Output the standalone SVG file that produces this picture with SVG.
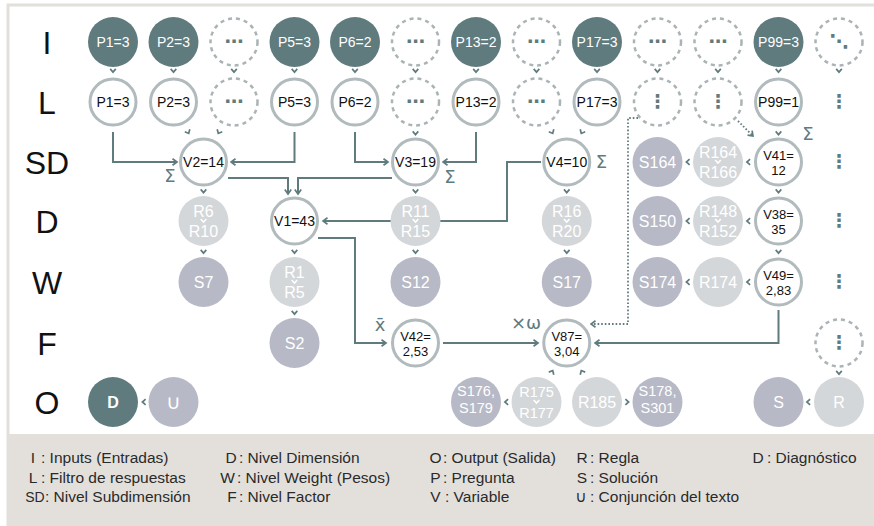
<svg xmlns="http://www.w3.org/2000/svg" xmlns:xlink="http://www.w3.org/1999/xlink" width="874" height="526" viewBox="0 0 874 526">
<style>
.dk{fill:#5f7b7e}
.ring{fill:#fff;stroke:#b1babc;stroke-width:3}
.dash{fill:#fff;stroke:#aab3b5;stroke-width:2.5;stroke-dasharray:4 4}
.rule{fill:#d4d7d9}
.sol{fill:#b7b9c6}
.t{font-family:"Liberation Sans",Arial,sans-serif;font-size:14px;text-anchor:middle;fill:#111}
.t2{font-family:"Liberation Sans",Arial,sans-serif;font-size:13px;text-anchor:middle;fill:#111}
.tw{font-family:"Liberation Sans",Arial,sans-serif;font-size:14px;text-anchor:middle;fill:#fff}
.tb{font-family:"Liberation Sans",Arial,sans-serif;font-size:16px;text-anchor:middle;fill:#fff}
.ts{font-family:"Liberation Sans",Arial,sans-serif;font-size:14.5px;text-anchor:middle;fill:#fff}
.dots{font-family:"DejaVu Sans",sans-serif;font-size:19px;font-weight:bold;text-anchor:middle;fill:#5f7b7e}
.row{font-family:"Liberation Sans",Arial,sans-serif;font-size:32px;text-anchor:middle;fill:#111}
.sym{font-family:"DejaVu Sans",sans-serif;font-size:18px;text-anchor:middle;fill:#5f7b7e}
.lg{font-family:"Liberation Sans",Arial,sans-serif;font-size:15.5px;fill:#2a2a2a}
.lgk{font-family:"Liberation Sans","DejaVu Sans",Arial,sans-serif;font-size:15.5px;fill:#2a2a2a;text-anchor:middle}
.con{fill:none;stroke:#5f7b7e;stroke-width:2}
.dot{fill:none;stroke:#5f7b7e;stroke-width:1.8;stroke-dasharray:1.6 2}
.cv{fill:none;stroke:#5f7b7e;stroke-width:1.7}
.cvw{fill:none;stroke:#fff;stroke-width:1.5}
</style>
<defs>
<marker id="ah" viewBox="0 0 7 8" refX="5.5" refY="4" markerWidth="7" markerHeight="8" orient="auto" markerUnits="userSpaceOnUse">
<path d="M1,0.8 L5.5,4 L1,7.2" fill="none" stroke="#5f7b7e" stroke-width="1.7"/>
</marker>
<path id="cv" d="M-2.8,-1.6 L0,1.6 L2.8,-1.6"/>
</defs>

<rect x="8" y="5" width="880" height="530" fill="#fff" stroke="#e3e0dc" stroke-width="3"/>
<rect x="7" y="434" width="880" height="95" fill="#e3e0dc"/>

<g id="row-labels">
<text class="row" x="47" y="54">I</text>
<text class="row" x="47" y="114">L</text>
<text class="row" x="47" y="174">SD</text>
<text class="row" x="47" y="233">D</text>
<text class="row" x="47" y="294">W</text>
<text class="row" x="47" y="355">F</text>
<text class="row" x="47" y="414">O</text>
</g>

<g id="connectors">
<path class="con" d="M113,132 V162 H177" marker-end="url(#ah)"/>
<path class="con" d="M294.5,132 V162 H231" marker-end="url(#ah)"/>
<path class="con" d="M355,132 V162 H388" marker-end="url(#ah)"/>
<path class="con" d="M476,132 V162 H443" marker-end="url(#ah)"/>
<path class="con" d="M228,178 H288 V194" marker-end="url(#ah)"/>
<path class="con" d="M392,178 H298 V194" marker-end="url(#ah)"/>
<path class="con" d="M541,162 H507 V221 H323" marker-end="url(#ah)"/>
<path class="con" d="M318,238 H355 V343 H386" marker-end="url(#ah)"/>
<path class="con" d="M443,343 H538" marker-end="url(#ah)"/>
<path class="con" d="M778.5,310 V343 H595" marker-end="url(#ah)"/>
<path class="dot" d="M638,118 H628 V324 H591" marker-end="url(#ah)"/>
<path class="dot" d="M738,121 L753,136" marker-end="url(#ah)"/>
<g class="cv">
<use xlink:href="#cv" x="113" y="70.5"/>
<use xlink:href="#cv" x="173.5" y="70.5"/>
<use xlink:href="#cv" x="234" y="70.5"/>
<use xlink:href="#cv" x="294.5" y="70.5"/>
<use xlink:href="#cv" x="355" y="70.5"/>
<use xlink:href="#cv" x="415.5" y="70.5"/>
<use xlink:href="#cv" x="476" y="70.5"/>
<use xlink:href="#cv" x="536.5" y="70.5"/>
<use xlink:href="#cv" x="597" y="70.5"/>
<use xlink:href="#cv" x="657.5" y="70.5"/>
<use xlink:href="#cv" x="718" y="70.5"/>
<use xlink:href="#cv" x="778.5" y="70.5"/>
<use xlink:href="#cv" x="839" y="70.5"/>
<use xlink:href="#cv" transform="translate(188,132) rotate(-26.6)"/>
<use xlink:href="#cv" transform="translate(219,132) rotate(26.6)"/>
<use xlink:href="#cv" x="415.5" y="133"/>
<use xlink:href="#cv" transform="translate(552,132) rotate(-26.6)"/>
<use xlink:href="#cv" transform="translate(582,132) rotate(26.6)"/>
<use xlink:href="#cv" x="778.5" y="133"/>
<use xlink:href="#cv" x="203.5" y="191"/>
<use xlink:href="#cv" x="415.5" y="191"/>
<use xlink:href="#cv" x="566.75" y="191"/>
<use xlink:href="#cv" x="778.5" y="191"/>
<use xlink:href="#cv" x="203.5" y="251.5"/>
<use xlink:href="#cv" x="294.5" y="251.5"/>
<use xlink:href="#cv" x="415.5" y="251.5"/>
<use xlink:href="#cv" x="566.75" y="251.5"/>
<use xlink:href="#cv" x="778.5" y="251.5"/>
<use xlink:href="#cv" x="294.5" y="312.5"/>
<use xlink:href="#cv" x="839" y="372.5"/>
<use xlink:href="#cv" transform="translate(688,162) rotate(90)"/>
<use xlink:href="#cv" transform="translate(748.5,162) rotate(90)"/>
<use xlink:href="#cv" transform="translate(688,221) rotate(90)"/>
<use xlink:href="#cv" transform="translate(748.5,221) rotate(90)"/>
<use xlink:href="#cv" transform="translate(688,282) rotate(90)"/>
<use xlink:href="#cv" transform="translate(748.5,282) rotate(90)"/>
<use xlink:href="#cv" transform="translate(144,402) rotate(90)"/>
<use xlink:href="#cv" transform="translate(506.5,402) rotate(90)"/>
<use xlink:href="#cv" transform="translate(808.5,402) rotate(90)"/>
<use xlink:href="#cv" transform="translate(627,402) rotate(-90)"/>
<use xlink:href="#cv" transform="translate(552,372) rotate(-153)"/>
<use xlink:href="#cv" transform="translate(582,372) rotate(153)"/>
</g>
</g>

<g id="annotations">
<text class="sym" x="170" y="182">Σ</text>
<text class="sym" x="450" y="183">Σ</text>
<text class="sym" x="601.5" y="168">Σ</text>
<text class="sym" x="808" y="140">Σ</text>
<text class="sym" x="380" y="331">x̄</text>
<text class="sym" x="526" y="329">×ω</text>
</g>

<!-- I row -->
<g id="I-P1"><circle class="dk" cx="113" cy="42" r="25"/><text class="tw" x="113" y="47">P1=3</text></g>
<g id="I-P2"><circle class="dk" cx="173.5" cy="42" r="25"/><text class="tw" x="173.5" y="47">P2=3</text></g>
<g id="I-e1"><circle class="dash" cx="234" cy="42" r="23.5"/><text class="dots" x="234" y="48">⋯</text></g>
<g id="I-P5"><circle class="dk" cx="294.5" cy="42" r="25"/><text class="tw" x="294.5" y="47">P5=3</text></g>
<g id="I-P6"><circle class="dk" cx="355" cy="42" r="25"/><text class="tw" x="355" y="47">P6=2</text></g>
<g id="I-e2"><circle class="dash" cx="415.5" cy="42" r="23.5"/><text class="dots" x="415.5" y="48">⋯</text></g>
<g id="I-P13"><circle class="dk" cx="476" cy="42" r="25"/><text class="tw" x="476" y="47">P13=2</text></g>
<g id="I-e3"><circle class="dash" cx="536.5" cy="42" r="23.5"/><text class="dots" x="536.5" y="48">⋯</text></g>
<g id="I-P17"><circle class="dk" cx="597" cy="42" r="25"/><text class="tw" x="597" y="47">P17=3</text></g>
<g id="I-e4"><circle class="dash" cx="657.5" cy="42" r="23.5"/><text class="dots" x="657.5" y="48">⋯</text></g>
<g id="I-e5"><circle class="dash" cx="718" cy="42" r="23.5"/><text class="dots" x="718" y="48">⋯</text></g>
<g id="I-P99"><circle class="dk" cx="778.5" cy="42" r="25"/><text class="tw" x="778.5" y="47">P99=3</text></g>
<g id="I-e6"><circle class="dash" cx="839" cy="42" r="23.5"/><text class="dots" x="839" y="48">⋱</text></g>

<!-- L row -->
<g id="L-P1"><circle class="ring" cx="113" cy="102" r="23"/><text class="t" x="113" y="107">P1=3</text></g>
<g id="L-P2"><circle class="ring" cx="173.5" cy="102" r="23"/><text class="t" x="173.5" y="107">P2=3</text></g>
<g id="L-e1"><circle class="dash" cx="234" cy="102" r="23.5"/><text class="dots" x="234" y="108">⋯</text></g>
<g id="L-P5"><circle class="ring" cx="294.5" cy="102" r="23"/><text class="t" x="294.5" y="107">P5=3</text></g>
<g id="L-P6"><circle class="ring" cx="355" cy="102" r="23"/><text class="t" x="355" y="107">P6=2</text></g>
<g id="L-e2"><circle class="dash" cx="415.5" cy="102" r="23.5"/><text class="dots" x="415.5" y="108">⋯</text></g>
<g id="L-P13"><circle class="ring" cx="476" cy="102" r="23"/><text class="t" x="476" y="107">P13=2</text></g>
<g id="L-e3"><circle class="dash" cx="536.5" cy="102" r="23.5"/><text class="dots" x="536.5" y="108">⋯</text></g>
<g id="L-P17"><circle class="ring" cx="597" cy="102" r="23"/><text class="t" x="597" y="107">P17=3</text></g>
<g id="L-e4"><circle class="dash" cx="657.5" cy="102" r="23.5"/><text class="dots" x="657.5" y="108">⋮</text></g>
<g id="L-e5"><circle class="dash" cx="718" cy="102" r="23.5"/><text class="dots" x="718" y="108">⋮</text></g>
<g id="L-P99"><circle class="ring" cx="778.5" cy="102" r="23"/><text class="t" x="778.5" y="107">P99=1</text></g>
<g id="L-e6"><text class="dots" x="839" y="108">⋮</text></g>

<!-- SD row -->
<g id="V2"><circle class="ring" cx="203.5" cy="162" r="23"/><text class="t" x="203.5" y="167">V2=14</text></g>
<g id="V3"><circle class="ring" cx="415.5" cy="162" r="23"/><text class="t" x="415.5" y="167">V3=19</text></g>
<g id="V4"><circle class="ring" cx="566.75" cy="162" r="23"/><text class="t" x="566.75" y="167">V4=10</text></g>
<g id="S164"><circle class="sol" cx="657.5" cy="162" r="25"/><text class="tb" x="657.5" y="168">S164</text></g>
<g id="R164"><circle class="rule" cx="718" cy="162" r="25"/><text class="tb" x="718" y="158">R164<tspan x="718" dy="20">R166</tspan></text><use class="cvw" xlink:href="#cv" x="718" y="161.5"/></g>
<g id="V41"><circle class="ring" cx="778.5" cy="162" r="23"/><text class="t2" x="778.5" y="159.5">V41=<tspan x="778.5" dy="15">12</tspan></text></g>
<g id="SD-e"><text class="dots" x="839" y="168">⋮</text></g>

<!-- D row -->
<g id="R6"><circle class="rule" cx="203.5" cy="221" r="25"/><text class="tb" x="203.5" y="217">R6<tspan x="203.5" dy="20">R10</tspan></text><use class="cvw" xlink:href="#cv" x="203.5" y="220.5"/></g>
<g id="V1"><circle class="ring" cx="294.5" cy="221" r="23"/><text class="t" x="294.5" y="226">V1=43</text></g>
<g id="R11"><circle class="rule" cx="415.5" cy="221" r="25"/><text class="tb" x="415.5" y="217">R11<tspan x="415.5" dy="20">R15</tspan></text><use class="cvw" xlink:href="#cv" x="415.5" y="220.5"/></g>
<g id="R16"><circle class="rule" cx="566.75" cy="221" r="25"/><text class="tb" x="566.75" y="217">R16<tspan x="566.75" dy="20">R20</tspan></text><use class="cvw" xlink:href="#cv" x="566.75" y="220.5"/></g>
<g id="S150"><circle class="sol" cx="657.5" cy="221" r="25"/><text class="tb" x="657.5" y="227">S150</text></g>
<g id="R148"><circle class="rule" cx="718" cy="221" r="25"/><text class="tb" x="718" y="217">R148<tspan x="718" dy="20">R152</tspan></text><use class="cvw" xlink:href="#cv" x="718" y="220.5"/></g>
<g id="V38"><circle class="ring" cx="778.5" cy="221" r="23"/><text class="t2" x="778.5" y="218.5">V38=<tspan x="778.5" dy="15">35</tspan></text></g>
<g id="D-e"><text class="dots" x="839" y="227">⋮</text></g>

<!-- W row -->
<g id="S7"><circle class="sol" cx="203.5" cy="282" r="25"/><text class="tb" x="203.5" y="288">S7</text></g>
<g id="R1"><circle class="rule" cx="294.5" cy="282" r="25"/><text class="tb" x="294.5" y="278">R1<tspan x="294.5" dy="20">R5</tspan></text><use class="cvw" xlink:href="#cv" x="294.5" y="281.5"/></g>
<g id="S12"><circle class="sol" cx="415.5" cy="282" r="25"/><text class="tb" x="415.5" y="288">S12</text></g>
<g id="S17"><circle class="sol" cx="566.75" cy="282" r="25"/><text class="tb" x="566.75" y="288">S17</text></g>
<g id="S174"><circle class="sol" cx="657.5" cy="282" r="25"/><text class="tb" x="657.5" y="288">S174</text></g>
<g id="R174"><circle class="rule" cx="718" cy="282" r="25"/><text class="tb" x="718" y="288">R174</text></g>
<g id="V49"><circle class="ring" cx="778.5" cy="282" r="23"/><text class="t2" x="778.5" y="279.5">V49=<tspan x="778.5" dy="15">2,83</tspan></text></g>
<g id="W-e"><text class="dots" x="839" y="288">⋮</text></g>

<!-- F row -->
<g id="S2"><circle class="sol" cx="294.5" cy="343" r="25"/><text class="tb" x="294.5" y="349">S2</text></g>
<g id="V42"><circle class="ring" cx="415.5" cy="343" r="23"/><text class="t2" x="415.5" y="340.5">V42=<tspan x="415.5" dy="15">2,53</tspan></text></g>
<g id="V87"><circle class="ring" cx="566.75" cy="343" r="23"/><text class="t2" x="566.75" y="340.5">V87=<tspan x="566.75" dy="15">3,04</tspan></text></g>
<g id="F-e"><circle class="dash" cx="839" cy="343" r="23.5"/><text class="dots" x="839" y="349">⋮</text></g>

<!-- O row -->
<g id="O-D"><circle class="dk" cx="113" cy="402" r="25"/><text class="tb" x="113" y="408" style="font-weight:bold">D</text></g>
<g id="O-U"><circle class="sol" cx="173.5" cy="402" r="25"/><text class="tb" x="173.5" y="409" style="font-family:'DejaVu Sans',sans-serif;font-size:20px">∪</text></g>
<g id="S176"><circle class="sol" cx="476" cy="402" r="25"/><text class="ts" x="476" y="396">S176,<tspan x="476" dy="16.5">S179</tspan></text></g>
<g id="R175"><circle class="rule" cx="536.5" cy="402" r="25"/><text class="ts" x="536.5" y="397">R175<tspan x="536.5" dy="21">R177</tspan></text><use class="cvw" xlink:href="#cv" x="536.5" y="401.5"/></g>
<g id="R185"><circle class="rule" cx="597" cy="402" r="25"/><text class="tb" x="597" y="408">R185</text></g>
<g id="S178"><circle class="sol" cx="657.5" cy="402" r="25"/><text class="ts" x="657.5" y="396">S178,<tspan x="657.5" dy="16.5">S301</tspan></text></g>
<g id="O-S"><circle class="sol" cx="778.5" cy="402" r="25"/><text class="tb" x="778.5" y="408">S</text></g>
<g id="O-R"><circle class="rule" cx="839" cy="402" r="25"/><text class="tb" x="839" y="408">R</text></g>

<g id="legend">
<text class="lgk" x="33" y="463">I</text><text class="lg" x="41" y="463">: Inputs (Entradas)</text>
<text class="lgk" x="33" y="482.5">L</text><text class="lg" x="41" y="482.5">: Filtro de respuestas</text>
<text class="lgk" x="35" y="502" style="font-size:14px">SD</text><text class="lg" x="45" y="502">: Nivel Subdimensión</text>
<text class="lgk" x="231" y="463">D</text><text class="lg" x="239" y="463">: Nivel Dimensión</text>
<text class="lgk" x="227.5" y="482.5">W</text><text class="lg" x="237" y="482.5">: Nivel Weight (Pesos)</text>
<text class="lgk" x="232" y="502">F</text><text class="lg" x="239" y="502">: Nivel Factor</text>
<text class="lgk" x="435.5" y="463">O</text><text class="lg" x="443" y="463">: Output (Salida)</text>
<text class="lgk" x="435.5" y="482.5">P</text><text class="lg" x="443" y="482.5">: Pregunta</text>
<text class="lgk" x="435.5" y="502">V</text><text class="lg" x="445" y="502">: Variable</text>
<text class="lgk" x="582" y="463">R</text><text class="lg" x="590" y="463">: Regla</text>
<text class="lgk" x="582" y="482.5">S</text><text class="lg" x="590" y="482.5">: Solución</text>
<text class="lgk" x="581" y="502">∪</text><text class="lg" x="590" y="502">: Conjunción del texto</text>
<text class="lgk" x="758" y="463">D</text><text class="lg" x="767" y="463">: Diagnóstico</text>
</g>
</svg>
